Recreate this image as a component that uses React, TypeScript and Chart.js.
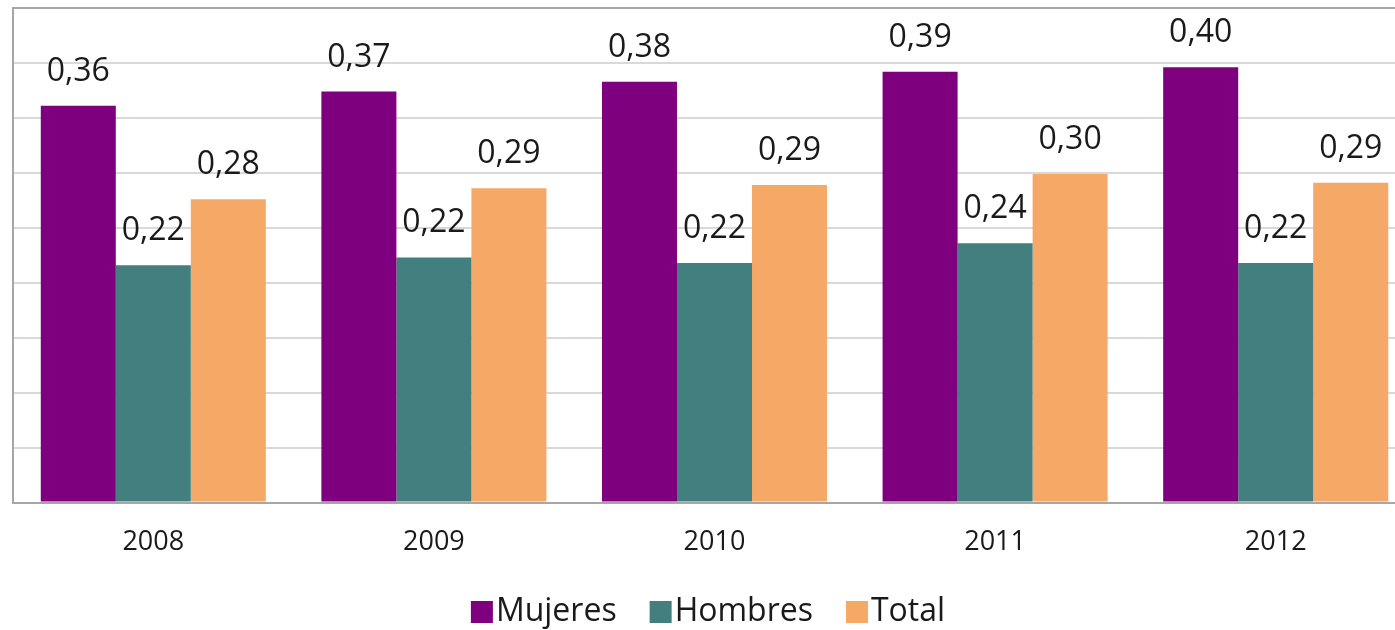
import React, { useEffect, useRef } from "react";
import { Chart, registerables } from "chart.js";

Chart.register(...registerables);

const years = ["2008", "2009", "2010", "2011", "2012"];
const mujeres = [0.361, 0.374, 0.383, 0.392, 0.396];
const hombres = [0.216, 0.223, 0.218, 0.236, 0.218];
const total = [0.276, 0.286, 0.289, 0.299, 0.291];
const seriesNames = ["Mujeres", "Hombres", "Total"];
const seriesColors = ["#7f007f", "#427f7e", "#f6a866"];

const FONT = "'Open Sans', 'DejaVu Sans', sans-serif";

const fmt = (v: number) => v.toFixed(2).replace(".", ",");

const labelsPlugin = {
  id: "valueLabels",
  afterDatasetsDraw(chart: any) {
    const ctx = chart.ctx;
    ctx.save();
    ctx.font = `32px ${FONT}`;
    ctx.fillStyle = "#1a1a1a";
    ctx.textAlign = "center";
    ctx.textBaseline = "alphabetic";
    chart.data.datasets.forEach((ds: any, i: number) => {
      const meta = chart.getDatasetMeta(i);
      meta.data.forEach((bar: any, j: number) => {
        ctx.fillText(fmt(ds.data[j]), bar.x, bar.y - 25);
      });
    });
    ctx.restore();
  },
};

const legendPlugin = {
  id: "customLegend",
  afterDraw(chart: any) {
    const ctx = chart.ctx;
    ctx.save();
    ctx.font = `32px ${FONT}`;
    const box = 22;
    const gapBoxText = 3;
    const gapItems = 33;
    const widths = seriesNames.map((n) => ctx.measureText(n).width);
    const totalW =
      widths.reduce((a, b) => a + b, 0) +
      seriesNames.length * (box + gapBoxText) +
      (seriesNames.length - 1) * gapItems;
    let x = chart.width / 2 - totalW / 2;
    const cy = 612;
    ctx.textBaseline = "middle";
    ctx.textAlign = "left";
    seriesNames.forEach((n, i) => {
      ctx.fillStyle = seriesColors[i];
      ctx.fillRect(x, cy - box / 2, box, box);
      x += box + gapBoxText;
      ctx.fillStyle = "#1a1a1a";
      ctx.fillText(n, x, cy);
      x += widths[i] + gapItems;
    });
    ctx.restore();
  },
};

export default function App() {
  const ref = useRef<HTMLCanvasElement | null>(null);
  useEffect(() => {
    if (!ref.current) return;
    Chart.defaults.font.family = FONT;
    const chart = new Chart(ref.current, {
      type: "bar",
      data: {
        labels: years,
        datasets: [
          { label: seriesNames[0], data: mujeres, backgroundColor: seriesColors[0] },
          { label: seriesNames[1], data: hombres, backgroundColor: seriesColors[1] },
          { label: seriesNames[2], data: total, backgroundColor: seriesColors[2] },
        ],
      },
      options: {
        responsive: false,
        animation: false,
        devicePixelRatio: 1,
        layout: { padding: { left: 13, top: 8, right: 0, bottom: 47 } },
        datasets: { bar: { barPercentage: 1.0, categoryPercentage: 0.802 } },
        plugins: { legend: { display: false }, tooltip: { enabled: false } },
        scales: {
          x: {
            grid: { drawOnChartArea: false, drawTicks: false },
            border: { display: true, color: "#a6a6a6", width: 2 },
            ticks: {
              color: "#1a1a1a",
              font: { size: 27, family: FONT },
              padding: 24,
            },
          },
          y: {
            min: 0,
            max: 0.45,
            ticks: { display: false, stepSize: 0.05 },
            grid: {
              drawTicks: false,
              lineWidth: 2,
              color: (c: any) =>
                c.tick && Math.abs(c.tick.value - 0.45) < 1e-6 ? "#a6a6a6" : "#d9d9d9",
            },
            border: { display: true, color: "#a6a6a6", width: 2 },
          },
        },
      } as any,
      plugins: [labelsPlugin, legendPlugin],
    });
    return () => chart.destroy();
  }, []);
  return (
    <div
      style={{
        position: "absolute",
        left: 0,
        top: 0,
        width: 1395,
        height: 630,
        overflow: "hidden",
        background: "#fff",
      }}
    >
      <canvas ref={ref} width={1416} height={630} style={{ display: "block" }} />
    </div>
  );
}
